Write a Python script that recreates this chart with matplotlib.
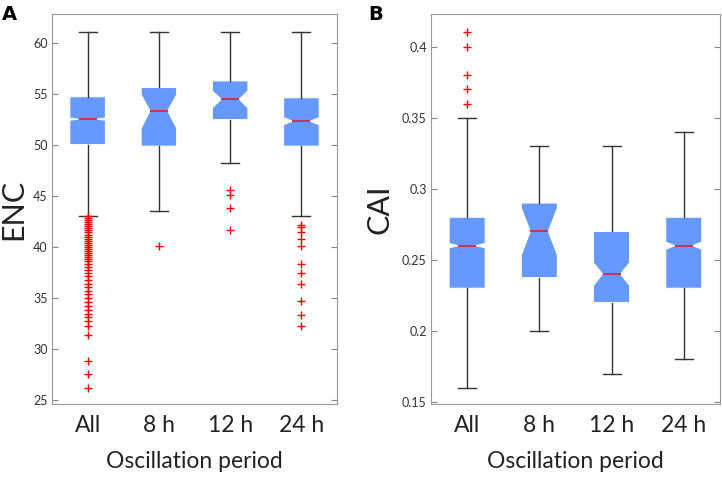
import matplotlib
matplotlib.use("Agg")
from matplotlib import pyplot as plt

plt.rcParams['font.family'] = ['Lato', 'DejaVu Sans']

# Categories
periods = ["All", "8 h", "12 h", "24 h"]

# Panel A: ENC summary stats
enc_whishi = [61.0, 61.0, 61.0, 61.0]
enc_q3 = [54.7, 55.6, 56.25, 54.6]
enc_med = [52.5, 53.3, 54.45, 52.3]
enc_q1 = [50.0, 49.85, 52.45, 49.85]
enc_whislo = [43.0, 43.5, 48.2, 43.0]
enc_cilo = [52.4, 51.6, 53.6, 51.95]
enc_cihi = [52.6, 54.9, 55.25, 52.65]
enc_fliers_all = [43.0, 42.8, 42.6, 42.4, 42.2, 42.0, 41.8, 41.6, 41.4, 41.2,
                  41.0, 40.8, 40.6, 40.4, 40.2, 40.0, 39.8, 39.6, 39.4, 39.2,
                  39.0, 38.8, 38.6, 38.33, 38.0, 37.75, 37.4, 37.1, 36.75,
                  36.4, 36.1, 35.7, 35.4, 35.0, 34.6, 34.2, 33.8, 33.4, 33.1,
                  32.7, 32.2, 31.4, 28.85, 27.5, 26.2]
enc_fliers_8h = [40.1]
enc_fliers_12h = [45.6, 45.1, 43.8, 41.6]
enc_fliers_24h = [42.1, 41.9, 41.4, 40.8, 40.1, 38.3, 37.4, 36.4, 34.7, 33.3,
                  32.2]

# Panel B: CAI summary stats
cai_whishi = [0.35, 0.33, 0.33, 0.34]
cai_q3 = [0.28, 0.29, 0.27, 0.28]
cai_med = [0.26, 0.27, 0.24, 0.26]
cai_q1 = [0.23, 0.2375, 0.22, 0.23]
cai_whislo = [0.16, 0.20, 0.17, 0.18]
cai_cilo = [0.2585, 0.2535, 0.232, 0.2575]
cai_cihi = [0.2615, 0.2865, 0.248, 0.2625]
cai_fliers_all = [0.36, 0.37, 0.38, 0.40, 0.41]
cai_fliers_8h = []
cai_fliers_12h = []
cai_fliers_24h = []


def make_stats(lo, q1, med, q3, hi, cilo, cihi, fliers):
    return [dict(whislo=lo[i], q1=q1[i], med=med[i], q3=q3[i], whishi=hi[i],
                 cilo=cilo[i], cihi=cihi[i], fliers=fliers[i])
            for i in range(len(med))]


stats_a = make_stats(enc_whislo, enc_q1, enc_med, enc_q3, enc_whishi,
                     enc_cilo, enc_cihi,
                     [enc_fliers_all, enc_fliers_8h, enc_fliers_12h, enc_fliers_24h])
stats_b = make_stats(cai_whislo, cai_q1, cai_med, cai_q3, cai_whishi,
                     cai_cilo, cai_cihi,
                     [cai_fliers_all, cai_fliers_8h, cai_fliers_12h, cai_fliers_24h])

fig = plt.figure(figsize=(7.22, 4.79), dpi=100)
ax_a = fig.add_axes([0.072, 0.1566, 0.3948, 0.8142])
ax_b = fig.add_axes([0.597, 0.1566, 0.400, 0.8142])

box_style = dict(
    patch_artist=True, shownotches=True, widths=0.5,
    boxprops=dict(facecolor="#6699ff", edgecolor="white", linewidth=0.8),
    medianprops=dict(color="#e0203a", linewidth=1.2),
    whiskerprops=dict(color="#333333", linewidth=1.0),
    capprops=dict(color="#333333", linewidth=1.0),
    flierprops=dict(marker="+", markeredgecolor="red", markersize=6,
                    markeredgewidth=1.0, linestyle="none"),
)

for ax, stats, ylab, ylim, yticks, ytl in [
        (ax_a, stats_a, "ENC", (24.6, 62.8), [25, 30, 35, 40, 45, 50, 55, 60],
         ["25", "30", "35", "40", "45", "50", "55", "60"]),
        (ax_b, stats_b, "CAI", (0.1486, 0.423), [0.15, 0.2, 0.25, 0.3, 0.35, 0.4],
         ["0.15", "0.2", "0.25", "0.3", "0.35", "0.4"])]:
    ax.bxp(stats, positions=[1, 2, 3, 4], **box_style)
    ax.set_xlim(0.5, 4.5)
    ax.set_ylim(*ylim)
    ax.set_yticks(yticks)
    ax.set_yticklabels(ytl)
    ax.set_xticks([1, 2, 3, 4])
    ax.set_xticklabels(periods, fontsize=16.5, color="#222222")
    ax.tick_params(axis="x", length=0, pad=8)
    ax.tick_params(axis="y", direction="in", right=True, length=4,
                   labelsize=9, colors="#888888", labelcolor="#333333", pad=3)
    for sp in ax.spines.values():
        sp.set_color("#999999")
    ax.set_xlabel("Oscillation period", fontsize=16.5, color="#222222",
                  labelpad=11)
    ax.set_ylabel(ylab, fontsize=22, color="#222222")

ax_a.yaxis.set_label_coords(-0.088, 0.5)
ax_b.yaxis.set_label_coords(-0.13, 0.5)

fig.text(0.003, 0.958, "A", fontsize=14, fontweight="bold", family="DejaVu Sans")
fig.text(0.510, 0.958, "B", fontsize=14, fontweight="bold", family="DejaVu Sans")

fig.savefig("out.png", dpi=100)
